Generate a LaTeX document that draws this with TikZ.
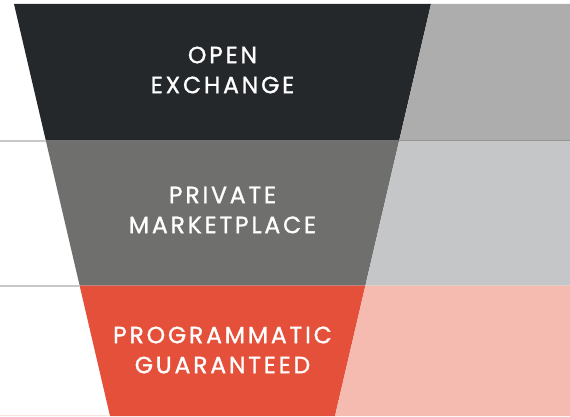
\documentclass[tikz,border=0pt]{standalone}
\usepackage{fontspec}
\usepackage{tikz}
\usetikzlibrary{positioning}
\newfontfamily\bandfont[LetterSpace=12,FakeBold=1.2]{Poppins}
\definecolor{exdark}{HTML}{25282B}
\definecolor{exside}{HTML}{ADADAD}
\definecolor{pmpgray}{HTML}{6F706E}
\definecolor{pmpside}{HTML}{C5C6C8}
\definecolor{pgred}{HTML}{E5503A}
\definecolor{pgside}{HTML}{F5BAB0}
\definecolor{sepgray}{HTML}{C8C8C8}
\tikzset{
  bandlabel/.style={text=white,align=center,font=\bandfont\fontsize{23.5}{30}\selectfont}
}

\begin{document}
\begin{tikzpicture}[line cap=butt,line join=miter,x=1pt,y=1pt]
\useasboundingbox (0,0) rectangle (570,416);
\clip (0,0) rectangle (570,416);
% funnel bands
\fill[exdark] (14,412) -- (431,412) -- (399.2,275.5) -- (45.8,275.5) -- cycle;
\fill[pmpgray] (45.8,275.5) -- (399.2,275.5) -- (365.4,130.5) -- (79.6,130.5) -- cycle;
\fill[pgred] (79.6,130.5) -- (365.4,130.5) -- (335,0) -- (110,0) -- cycle;
% shaded panels on the right
\fill[exside] (431,412) -- (570,412) -- (570,275.5) -- (399.2,275.5) -- cycle;
\fill[pmpside] (399.2,275.5) -- (570,275.5) -- (570,130.5) -- (365.4,130.5) -- cycle;
\fill[pgside] (365.4,130.5) -- (570,130.5) -- (570,0) -- (335,0) -- cycle;
\draw [line width=1pt,color=black!42] (399.2,275.5)-- (570,275.5);
% rules on the left
\draw [line width=2pt,color=sepgray] (0,275.5)-- (45.8,275.5);
\draw [line width=2pt,color=sepgray] (0,130.5)-- (79.6,130.5);
\draw [line width=1pt,color=pgside!40] (0,0.5)-- (110,0.5);
% labels
\node[bandlabel] (openex) at (222.5,346) {OPEN\\EXCHANGE};
\node[bandlabel] (privmkt) at (222.5,206) {PRIVATE\\MARKETPLACE};
\node[bandlabel] (proggtd) at (222.5,66) {PROGRAMMATIC\\GUARANTEED};
\end{tikzpicture}
\end{document}
